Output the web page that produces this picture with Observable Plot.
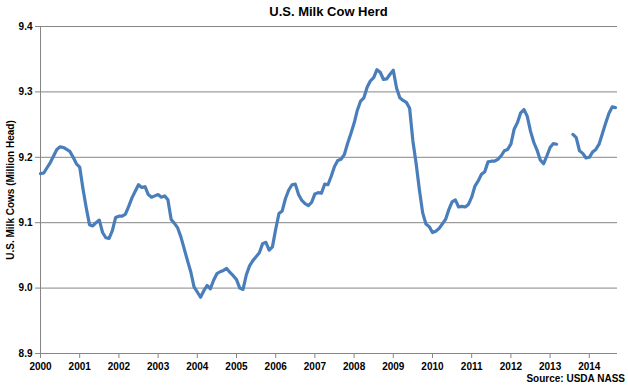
<!DOCTYPE html>
<html>
<head>
<meta charset="utf-8">
<script src="https://cdn.jsdelivr.net/npm/d3@7"></script>
<script src="https://cdn.jsdelivr.net/npm/@observablehq/plot@0.6"></script>
<style>
  html, body { margin: 0; padding: 0; background: #fff; }
  #wrap { position: relative; width: 628px; height: 386px; font-family: "Liberation Sans", Arial, sans-serif; }
  #title { position: absolute; left: 40px; width: 577px; top: 4px; text-align: center; font-weight: bold; font-size: 13px; color: #000; }
  #ylab { position: absolute; left: 10px; top: 190px; transform: translate(-50%, -50%) rotate(-90deg); white-space: nowrap; font-size: 10px; font-weight: bold; color: #000; }
  #source { position: absolute; right: 3px; top: 373px; font-size: 10px; font-weight: bold; color: #000; }
  svg [aria-label^="x-axis"] line, svg [aria-label^="y-axis"] line,
  svg [aria-label^="x-axis"] path, svg [aria-label^="y-axis"] path { stroke: #868686; }
  svg text { font-weight: bold; }
</style>
</head>
<body>
<div id="wrap">
  <div id="title">U.S. Milk Cow Herd</div>
  <div id="ylab">U.S. Milk Cows (Million Head)</div>
  <div id="source">Source: USDA NASS</div>
</div>
<script>
// Monthly U.S. milk cow herd, million head (Jan..Dec)
const v2000 = [9.175, 9.176, 9.184, 9.192, 9.202, 9.212, 9.216, 9.215, 9.212, 9.209, 9.200, 9.190];
const v2001 = [9.185, 9.152, 9.123, 9.097, 9.095, 9.100, 9.104, 9.085, 9.077, 9.076, 9.088, 9.108];
const v2002 = [9.110, 9.110, 9.113, 9.125, 9.138, 9.148, 9.158, 9.154, 9.155, 9.143, 9.139, 9.141];
const v2003 = [9.143, 9.139, 9.141, 9.135, 9.105, 9.099, 9.092, 9.078, 9.060, 9.042, 9.025, 9.002];
const v2004 = [8.994, 8.986, 8.996, 9.004, 8.999, 9.012, 9.022, 9.025, 9.027, 9.030, 9.024, 9.019];
const v2005 = [9.013, 9.000, 8.998, 9.020, 9.034, 9.042, 9.048, 9.054, 9.068, 9.070, 9.058, 9.063];
const v2006 = [9.090, 9.114, 9.118, 9.137, 9.150, 9.158, 9.159, 9.143, 9.134, 9.129, 9.126, 9.131];
const v2007 = [9.144, 9.146, 9.145, 9.159, 9.158, 9.171, 9.186, 9.195, 9.197, 9.204, 9.221, 9.236];
const v2008 = [9.252, 9.272, 9.286, 9.291, 9.307, 9.317, 9.322, 9.334, 9.330, 9.319, 9.320, 9.327];
const v2009 = [9.333, 9.306, 9.291, 9.287, 9.284, 9.275, 9.225, 9.190, 9.150, 9.115, 9.098, 9.094];
const v2010 = [9.085, 9.087, 9.091, 9.098, 9.105, 9.120, 9.132, 9.135, 9.124, 9.125, 9.124, 9.128];
const v2011 = [9.139, 9.156, 9.164, 9.174, 9.178, 9.193, 9.194, 9.194, 9.197, 9.202, 9.210, 9.212];
const v2012 = [9.220, 9.243, 9.253, 9.268, 9.273, 9.263, 9.240, 9.223, 9.211, 9.196, 9.190, 9.202];
const v2013 = [9.215, 9.221, 9.220, null, null, null, null, 9.235, 9.230, 9.210, 9.206, 9.199];
const v2014 = [9.200, 9.208, 9.212, 9.220, 9.236, 9.252, 9.267, 9.277, 9.276];

const years = [2000, 2001, 2002, 2003, 2004, 2005, 2006, 2007, 2008, 2009, 2010, 2011, 2012, 2013, 2014];
const series = [v2000, v2001, v2002, v2003, v2004, v2005, v2006, v2007, v2008, v2009, v2010, v2011, v2012, v2013, v2014];
const yTicks = [8.9, 9.0, 9.1, 9.2, 9.3, 9.4];

const data = [];
years.forEach((yr, i) => {
  series[i].forEach((v, m) => data.push({ t: yr + m / 12, v: v == null ? NaN : v }));
});

const chart = Plot.plot({
  width: 628,
  height: 386,
  marginTop: 26,
  marginBottom: 33,
  marginLeft: 40,
  marginRight: 11,
  style: { fontFamily: "Liberation Sans, Arial, sans-serif", fontSize: "10px", color: "#000", background: "#fff" },
  x: { domain: [2000, 2014.72], ticks: years, tickFormat: d => String(d), tickSize: 5, tickPadding: 4, label: null },
  y: { domain: [8.9, 9.4], ticks: yTicks, tickFormat: d => d.toFixed(1), tickSize: 5, tickPadding: 3, label: null },
  marks: [
    Plot.ruleY(yTicks, { stroke: "#868686", strokeWidth: 1 }),
    Plot.ruleX([2000], { y1: 8.9, y2: 9.4, stroke: "#868686", strokeWidth: 1 }),
    Plot.line(data, { x: "t", y: "v", stroke: "#4a7ebb", strokeWidth: 3.2, curve: "linear" })
  ]
});
document.getElementById("wrap").prepend(chart);
chart.style.position = "absolute";
chart.style.left = "0";
chart.style.top = "0";
</script>
</body>
</html>
